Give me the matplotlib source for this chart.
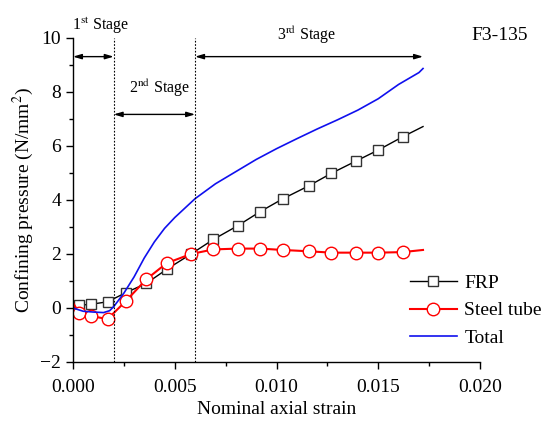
import matplotlib
matplotlib.use('Agg')
import matplotlib.pyplot as plt
from matplotlib.ticker import MultipleLocator

plt.rcParams['font.family'] = ['Liberation Serif', 'DejaVu Serif']
plt.rcParams['mathtext.fontset'] = 'stix'

# strain at the marker points (first / last entries carry no marker)
strain = [0.0, 0.0003, 0.0009, 0.0017, 0.0026, 0.0036, 0.0046, 0.0058, 0.0069,
          0.0081, 0.0092, 0.0103, 0.0116, 0.0127, 0.0139, 0.0150, 0.0162, 0.0172]
frp = [0.08, 0.10, 0.14, 0.23, 0.57, 0.91, 1.43, 2.00, 2.54,
       3.05, 3.57, 4.04, 4.53, 4.99, 5.44, 5.85, 6.34, 6.72]
steel = [0.20, -0.20, -0.30, -0.41, 0.26, 1.06, 1.66, 2.00, 2.17,
         2.20, 2.20, 2.15, 2.10, 2.05, 2.05, 2.05, 2.07, 2.15]

strain_total = [0.0, 0.0005, 0.001, 0.0015, 0.0018, 0.002, 0.0025, 0.003, 0.0035,
                0.004, 0.0045, 0.005, 0.0055, 0.006, 0.007, 0.008, 0.009, 0.010,
                0.011, 0.012, 0.013, 0.014, 0.015, 0.016, 0.017, 0.0172]
total = [0.0, -0.12, -0.15, -0.17, -0.10, 0.05, 0.55, 1.15, 1.85,
         2.45, 2.95, 3.35, 3.70, 4.05, 4.60, 5.05, 5.50, 5.90,
         6.27, 6.63, 6.97, 7.33, 7.75, 8.28, 8.72, 8.87]

stage_bounds = [0.0, 0.002, 0.006, 0.0172]

fig = plt.figure(figsize=(5.44, 4.21), dpi=100)
ax = fig.add_axes([73 / 544, 1 - 362 / 421, 407 / 544, 324 / 421])

mk = list(range(1, len(strain) - 1))
ax.plot(strain, frp, color='black', lw=1.0, marker='s', ms=7.5, mfc='white',
        mec='#333333', mew=1.0, markevery=mk, label='FRP')
ax.plot(strain, steel, color='red', lw=1.5, marker='o', ms=9, mfc='white',
        mec='red', mew=1.0, markevery=mk, label='Steel tube')
ax.plot(strain_total, total, color='#1010ee', lw=1.2, label='Total')

# stage boundaries
for xb in stage_bounds[1:3]:
    ax.axvline(xb, color='black', lw=0.8, ls=(0, (1.5, 1.5)))

arrow = dict(arrowstyle='<|-|>,head_length=0.5,head_width=0.15', color='black', lw=1.0,
             shrinkA=0, shrinkB=0)
ax.annotate('', xy=(stage_bounds[0], 9.31), xytext=(stage_bounds[1], 9.31), arrowprops=arrow)
ax.annotate('', xy=(stage_bounds[1], 7.17), xytext=(stage_bounds[2], 7.17), arrowprops=arrow)
ax.annotate('', xy=(stage_bounds[2], 9.31), xytext=(stage_bounds[3], 9.31), arrowprops=arrow)

ax.text(0.00135, 10.45, r'1$^{\mathrm{st}}$ Stage', ha='center', va='center', fontsize=11.5)
ax.text(0.00423, 8.15, r'2$^{\mathrm{nd}}$ Stage', ha='center', va='center', fontsize=11.5)
ax.text(0.0115, 10.1, r'3$^{\mathrm{rd}}$ Stage', ha='center', va='center', fontsize=11.5)
ax.text(0.0196, 10.1, 'F3-135', ha='left', va='center', fontsize=14)

ax.set_xlim(0, 0.02)
ax.set_ylim(-2, 10)
ax.xaxis.set_major_locator(MultipleLocator(0.005))
ax.xaxis.set_minor_locator(MultipleLocator(0.0025))
ax.yaxis.set_major_locator(MultipleLocator(2))
ax.yaxis.set_minor_locator(MultipleLocator(1))
ax.xaxis.set_major_formatter(plt.FuncFormatter(lambda v, p: '%.3f' % v))
ax.tick_params(which='major', direction='out', length=5, width=1, labelsize=14)
ax.tick_params(axis='x', which='major', pad=7)
ax.tick_params(which='minor', direction='out', length=3, width=1)
for s in ['top', 'right']:
    ax.spines[s].set_visible(False)
for s in ['left', 'bottom']:
    ax.spines[s].set_linewidth(1.0)

ax.set_xlabel('Nominal axial strain', fontsize=14, labelpad=4)
ax.set_ylabel(r'Confining pressure (N/mm$^2$)', fontsize=14, labelpad=3)

ax.legend(loc='upper left', bbox_to_anchor=(410 / 544, 1 - 274 / 421),
          bbox_transform=fig.transFigure, frameon=False, fontsize=14,
          borderpad=0, borderaxespad=0, handlelength=2.4, handletextpad=0.4,
          labelspacing=0.52)

fig.savefig('out.png', dpi=100)
